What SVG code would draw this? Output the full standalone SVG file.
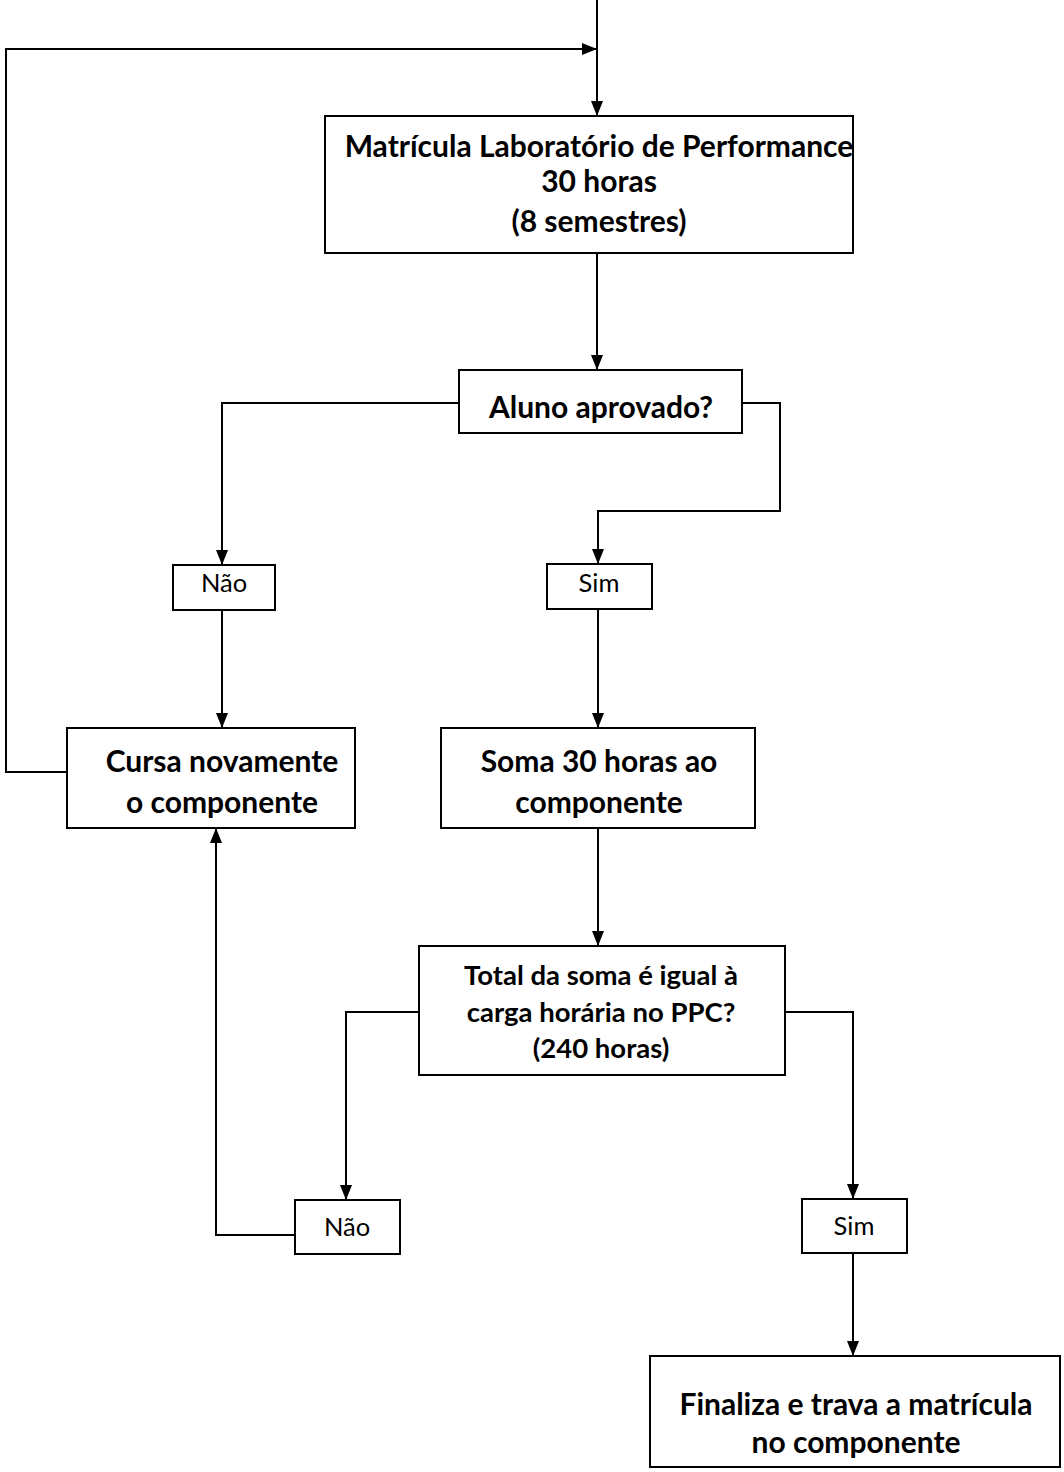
<svg xmlns="http://www.w3.org/2000/svg" width="1064" height="1472" viewBox="0 0 1064 1472">
<style>
.box{fill:#fff;stroke:#000;stroke-width:2}
.c{fill:none;stroke:#000;stroke-width:2}
.t{font-family:Lato,"Open Sans","Liberation Sans",sans-serif;font-weight:bold;font-size:30px;text-anchor:middle;fill:#000}
.m{font-size:27.5px}
.s{font-family:Lato,"Open Sans","Liberation Sans",sans-serif;font-size:25.5px;text-anchor:middle;fill:#000}
</style>
<defs>
<marker id="a" markerWidth="16" markerHeight="14" refX="15" refY="7" orient="auto" markerUnits="userSpaceOnUse">
<path d="M0,1 L15,7 L0,13 Z" fill="#000"/>
</marker>
</defs>
<rect width="1064" height="1472" fill="#fff"/>
<g id="connectors">
<path class="c" d="M597,0 V116" marker-end="url(#a)"/>
<path class="c" d="M67,772 H6 V49 H597" marker-end="url(#a)"/>
<path class="c" d="M597,253 V370" marker-end="url(#a)"/>
<path class="c" d="M459,403 H222 V565" marker-end="url(#a)"/>
<path class="c" d="M742,403 H780 V511 H598 V564" marker-end="url(#a)"/>
<path class="c" d="M222,610 V728" marker-end="url(#a)"/>
<path class="c" d="M598,609 V728" marker-end="url(#a)"/>
<path class="c" d="M598,828 V946" marker-end="url(#a)"/>
<path class="c" d="M419,1012 H346 V1200" marker-end="url(#a)"/>
<path class="c" d="M295,1235 H216 V828" marker-end="url(#a)"/>
<path class="c" d="M785,1012 H853 V1199" marker-end="url(#a)"/>
<path class="c" d="M853,1253 V1356" marker-end="url(#a)"/>
</g>
<g id="n1"><rect class="box" x="325" y="116" width="528" height="137"/>
<text class="t" x="599" y="157">Matrícula Laboratório de Performance</text>
<text class="t" x="599" y="192">30 horas</text>
<text class="t" x="599" y="232">(8 semestres)</text></g>
<g id="n2"><rect class="box" x="459" y="370" width="283" height="63"/>
<text class="t" x="601" y="418">Aluno aprovado?</text></g>
<g id="n3"><rect class="box" x="173" y="565" width="102" height="45"/>
<text class="s" x="224" y="592">Não</text></g>
<g id="n4"><rect class="box" x="547" y="564" width="105" height="45"/>
<text class="s" x="599" y="592">Sim</text></g>
<g id="n5"><rect class="box" x="67" y="728" width="288" height="100"/>
<text class="t" x="222" y="772">Cursa novamente</text>
<text class="t" x="222" y="813">o componente</text></g>
<g id="n6"><rect class="box" x="441" y="728" width="314" height="100"/>
<text class="t" x="599" y="772">Soma 30 horas ao</text>
<text class="t" x="599" y="813">componente</text></g>
<g id="n7"><rect class="box" x="419" y="946" width="366" height="129"/>
<text class="t m" x="601" y="985">Total da soma é igual à</text>
<text class="t m" x="601" y="1022">carga horária no PPC?</text>
<text class="t m" x="601" y="1058">(240 horas)</text></g>
<g id="n8"><rect class="box" x="295" y="1200" width="105" height="54"/>
<text class="s" x="347" y="1236">Não</text></g>
<g id="n9"><rect class="box" x="802" y="1199" width="105" height="54"/>
<text class="s" x="854" y="1235">Sim</text></g>
<g id="n10"><rect class="box" x="650" y="1356" width="410" height="111"/>
<text class="t" x="856" y="1415">Finaliza e trava a matrícula</text>
<text class="t" x="856" y="1453">no componente</text></g>
</svg>
